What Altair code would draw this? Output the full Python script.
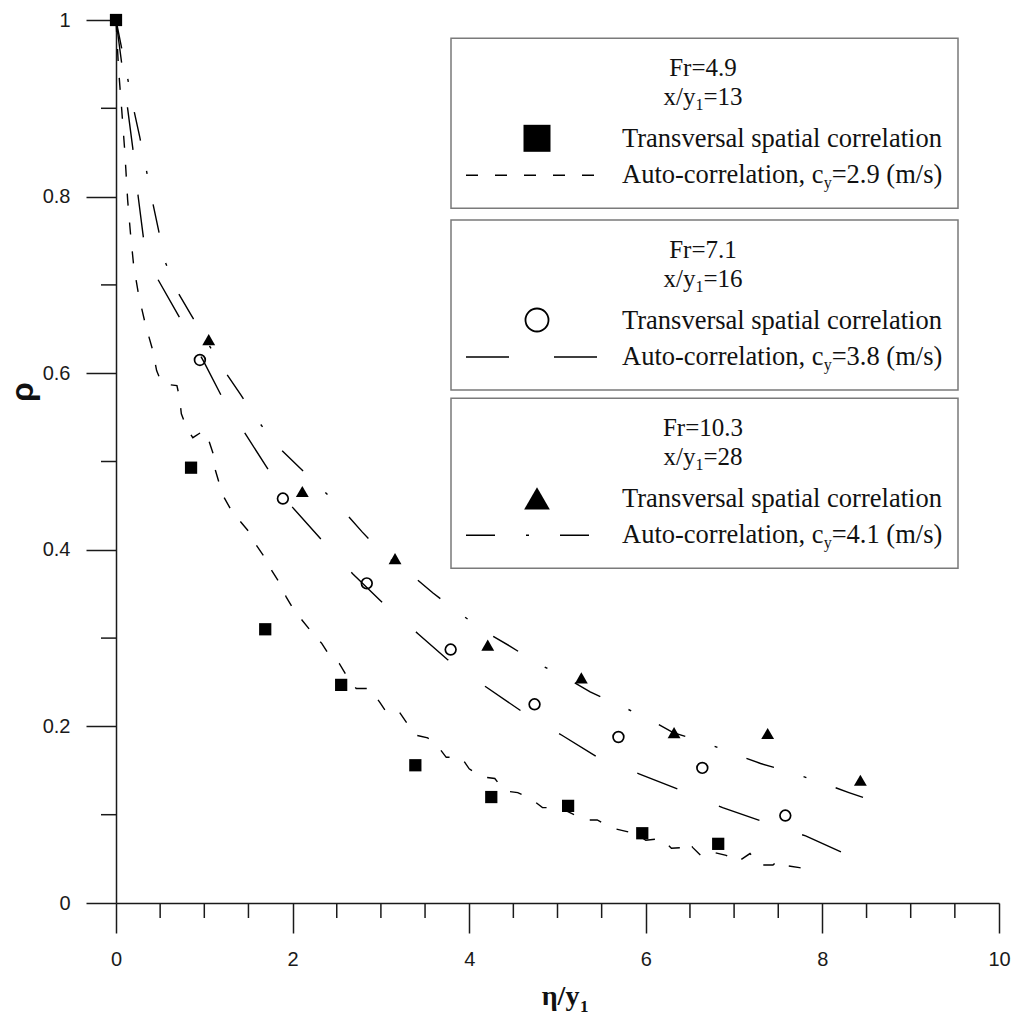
import altair as alt
import pandas as pd

# ---------------- data ----------------
# Transversal spatial correlation (markers)
sq_x = [0.0, 0.85, 1.69, 2.55, 3.39, 4.25, 5.12, 5.96, 6.82]
sq_y = [1.0, 0.493, 0.310, 0.247, 0.156, 0.120, 0.110, 0.079, 0.067]
ci_x = [0.95, 1.89, 2.84, 3.79, 4.74, 5.69, 6.64, 7.58]
ci_y = [0.615, 0.458, 0.362, 0.287, 0.225, 0.188, 0.153, 0.099]
tr_x = [1.05, 2.11, 3.16, 4.21, 5.27, 6.32, 7.38, 8.43]
tr_y = [0.638, 0.466, 0.390, 0.292, 0.255, 0.193, 0.192, 0.139]

# Auto-correlation curves
a49_x = [0.0, 0.03, 0.065, 0.099, 0.132, 0.166, 0.2, 0.257, 0.336, 0.416, 0.46, 0.52, 0.69,
         0.72, 0.74, 0.80, 0.87, 0.995, 1.04, 1.10, 1.12, 1.17, 1.22, 1.31, 1.40, 1.51, 1.59,
         1.68, 1.76, 1.85, 1.93, 2.02, 2.11, 2.23, 2.33, 2.42, 2.53, 2.62, 2.72, 2.87, 2.99,
         3.07, 3.21, 3.30, 3.40, 3.53, 3.64, 3.74, 3.91, 4.00, 4.14, 4.29, 4.40, 4.55, 4.70,
         4.83, 5.02, 5.17, 5.31, 5.45, 5.61, 5.74, 5.90, 6.00, 6.18, 6.29, 6.44, 6.49, 6.53,
         6.64, 6.78, 6.91, 7.03, 7.18, 7.29, 7.44, 7.49, 7.55, 7.74, 7.88]
a49_y = [1.0, 0.943, 0.898, 0.852, 0.796, 0.756, 0.722, 0.688, 0.654, 0.626, 0.603, 0.588, 0.586,
         0.572, 0.554, 0.538, 0.527, 0.535, 0.527, 0.509, 0.492, 0.475, 0.460, 0.444, 0.433, 0.420, 0.405,
         0.392, 0.377, 0.363, 0.346, 0.331, 0.320, 0.305, 0.294, 0.280, 0.271, 0.256, 0.243, 0.243, 0.227,
         0.215, 0.216, 0.203, 0.190, 0.187, 0.178, 0.165, 0.165, 0.152, 0.143, 0.141, 0.127, 0.125, 0.118,
         0.108, 0.108, 0.101, 0.094, 0.094, 0.085, 0.082, 0.078, 0.071, 0.073, 0.062, 0.063, 0.069, 0.063,
         0.052, 0.057, 0.054, 0.046, 0.056, 0.043, 0.043, 0.048, 0.043, 0.040, 0.037]
a71_x = [0.0, 0.13, 0.19, 0.25, 0.31, 0.47, 0.72, 1.0, 1.19, 1.46, 1.73, 2.0, 2.33, 2.68, 3.03,
         3.42, 3.75, 4.2, 4.61, 5.05, 5.47, 5.93, 6.39, 6.87, 7.33, 7.81, 8.21]
a71_y = [1.0, 0.901, 0.855, 0.801, 0.754, 0.707, 0.663, 0.612, 0.575, 0.532, 0.49, 0.448, 0.411,
         0.373, 0.339, 0.305, 0.276, 0.244, 0.216, 0.19, 0.164, 0.146, 0.128, 0.108, 0.092, 0.076, 0.058]
a103_x = [0.0, 0.13, 0.2, 0.27, 0.34, 0.41, 0.48, 0.55, 0.68, 0.85, 1.22, 1.41, 1.6, 1.82, 2.06,
          2.33, 2.57, 2.79, 3.04, 3.33, 3.59, 3.88, 4.17, 4.46, 4.76, 5.08, 5.37, 5.7, 6.02, 6.31,
          6.66, 7.0, 7.3, 7.67, 8.0, 8.3, 8.65]
a103_y = [1.0, 0.935, 0.899, 0.867, 0.832, 0.796, 0.763, 0.728, 0.695, 0.666, 0.604, 0.576, 0.547,
          0.518, 0.495, 0.469, 0.445, 0.42, 0.394, 0.373, 0.351, 0.329, 0.308, 0.291, 0.272, 0.256,
          0.239, 0.224, 0.209, 0.193, 0.182, 0.169, 0.158, 0.147, 0.136, 0.125, 0.113]

# axis ticks
x_major = [0, 2, 4, 6, 8, 10]
x_minor = [0.5, 1, 1.5, 2.5, 3, 3.5, 4.5, 5, 5.5, 6.5, 7, 7.5, 8.5, 9, 9.5]
y_major = [0, 0.2, 0.4, 0.6, 0.8, 1]
y_minor = [0.1, 0.3, 0.5, 0.7, 0.9]

# legend texts
fr_labels = ["Fr=4.9", "Fr=7.1", "Fr=10.3"]
xy_values = ["=13", "=16", "=28"]
cy_values = ["=2.9 (m/s)", "=3.8 (m/s)", "=4.1 (m/s)"]
marker_label = "Transversal spatial correlation"
auto_label = "Auto-correlation, c"

# ---------------- layout / style ----------------
W = H = 883
INK = "#1a1a1a"
xs = alt.Scale(domain=[0, 10], nice=False, zero=False)
ys = alt.Scale(domain=[0, 1], nice=False, zero=False)

DASH_SQ = [12, 17]
DASH_CI = [43, 45]
DASH_TR = [29, 31, 3, 31]

FS = 26.5
FS_T = 25
SUB = 16
box_tops = [18.3, 200.0, 378.3]
BOX_L, BOX_R, BOX_H = 335, 842, 170
TITLE_CX = 587
TEXT_L = 506
MARK_CX = 421
LINE_L, LINE_R = 350, 481


def df(xv, yv):
    return pd.DataFrame({"x": xv, "y": yv, "i": list(range(len(xv)))})


axis_x = alt.Axis(values=x_major, format="d", tickSize=30, tickWidth=1.5, tickColor=INK,
                  domainColor=INK, domainWidth=1.5, labelFont="Liberation Sans",
                  labelFontSize=20, labelColor=INK, labelPadding=26, labelBaseline="middle",
                  labelFlush=False, labelOverlap=False, labelAngle=0, grid=False, title=None)
axis_y = alt.Axis(values=y_major, format="~g", tickSize=30, tickWidth=1.5, tickColor=INK,
                  domainColor=INK, domainWidth=1.5, labelFont="Liberation Sans",
                  labelFontSize=20, labelColor=INK, labelPadding=16, labelFlush=False,
                  labelOverlap=False, grid=False, title=None)


def X(field="x:Q"):
    return alt.X(field, scale=xs, axis=axis_x)


def Y(field="y:Q"):
    return alt.Y(field, scale=ys, axis=axis_y)


layers = []

# minor ticks
layers.append(alt.Chart(pd.DataFrame({"v": x_minor})).mark_rule(color=INK, strokeWidth=1.5).encode(
    x=X("v:Q"), y=alt.value(H), y2=alt.value(H + 15)))
layers.append(alt.Chart(pd.DataFrame({"v": y_minor})).mark_rule(color=INK, strokeWidth=1.5).encode(
    y=Y("v:Q"), x=alt.value(-15), x2=alt.value(0)))


def curve(xv, yv, dash):
    return alt.Chart(df(xv, yv)).mark_line(color="black", strokeWidth=1.4, strokeDash=dash).encode(
        x=X(), y=Y(), order="i:Q")


layers.append(curve(a49_x, a49_y, DASH_SQ))
layers.append(curve(a71_x, a71_y, DASH_CI))
layers.append(curve(a103_x, a103_y, DASH_TR))

# markers
layers.append(alt.Chart(df(ci_x, ci_y)).mark_point(shape="circle", filled=False, size=115, strokeWidth=1.7,
                                                    color="black", opacity=1).encode(x=X(), y=Y()))
layers.append(alt.Chart(df(tr_x, tr_y)).mark_point(shape="triangle-up", filled=True, size=165,
                                                    color="black", opacity=1).encode(x=X(), y=Y()))
layers.append(alt.Chart(df(sq_x, sq_y)).mark_point(shape="square", filled=True, size=150,
                                                    color="black", opacity=1).encode(x=X(), y=Y()))

# legend boxes
boxes = pd.DataFrame({"x1": [BOX_L] * 3, "x2": [BOX_R] * 3, "y1": box_tops,
                      "y2": [t + BOX_H for t in box_tops]})
layers.append(alt.Chart(boxes).mark_rect(fill="white", stroke="#7a7a7a", strokeWidth=1.5).encode(
    x=alt.X("x1:Q", scale=None, axis=None), x2="x2:Q",
    y=alt.Y("y1:Q", scale=None, axis=None), y2="y2:Q"))

# legend texts
center_rows, left_rows = [], []
xy_w = 1.278 * FS_T
for k, t in enumerate(box_tops):
    center_rows.append({"px": TITLE_CX, "py": t + 38, "t": fr_labels[k]})
    start = TITLE_CX - (xy_w + 0.5 * SUB + 1.564 * FS_T) / 2
    left_rows.append({"px": start, "py": t + 67, "t": "x/y", "fs": FS_T})
    left_rows.append({"px": start + xy_w, "py": t + 72, "t": "1", "fs": SUB})
    left_rows.append({"px": start + xy_w + 0.5 * SUB, "py": t + 67, "t": xy_values[k], "fs": FS_T})
    left_rows.append({"px": TEXT_L, "py": t + 109, "t": marker_label, "fs": FS})
    aw = 7.609 * FS
    left_rows.append({"px": TEXT_L, "py": t + 145, "t": auto_label, "fs": FS})
    left_rows.append({"px": TEXT_L + aw, "py": t + 150, "t": "y", "fs": SUB})
    left_rows.append({"px": TEXT_L + aw + 0.5 * SUB, "py": t + 145, "t": cy_values[k], "fs": FS})

layers.append(alt.Chart(pd.DataFrame(center_rows)).mark_text(
    align="center", baseline="alphabetic", font="Liberation Serif", fontSize=FS_T, color="#111").encode(
    x=alt.X("px:Q", scale=None, axis=None), y=alt.Y("py:Q", scale=None, axis=None), text="t:N"))
layers.append(alt.Chart(pd.DataFrame(left_rows)).mark_text(
    align="left", baseline="alphabetic", font="Liberation Serif", color="#111").encode(
    x=alt.X("px:Q", scale=None, axis=None), y=alt.Y("py:Q", scale=None, axis=None), text="t:N",
    size=alt.Size("fs:Q", scale=None, legend=None)))

# legend markers
mk = [("square", True, 729, 0), ("circle", False, 531, 1), ("triangle-up", True, 660, 2)]
for shape, filled, size, k in mk:
    layers.append(alt.Chart(pd.DataFrame({"px": [MARK_CX], "py": [box_tops[k] + 100]})).mark_point(
        shape=shape, filled=filled, size=size, color="black", opacity=1, strokeWidth=1.8).encode(
        x=alt.X("px:Q", scale=None, axis=None), y=alt.Y("py:Q", scale=None, axis=None)))

# legend sample lines
for dash, k in [(DASH_SQ, 0), (DASH_CI, 1), (DASH_TR, 2)]:
    layers.append(alt.Chart(pd.DataFrame({"k": [k]})).mark_rule(
        color="black", strokeWidth=1.4, strokeDash=dash).encode(
        x=alt.value(LINE_L), x2=alt.value(LINE_R), y=alt.value(box_tops[k] + 137)))

# axis titles
layers.append(alt.Chart(pd.DataFrame({"k": [0]})).mark_text(
    angle=270, align="center", baseline="middle", font="Liberation Sans", fontWeight="bold",
    fontSize=32, color="#111").encode(x=alt.value(-93), y=alt.value(372), text=alt.value("ρ")))
layers.append(alt.Chart(pd.DataFrame({"k": [0]})).mark_text(
    align="left", baseline="alphabetic", font="Liberation Serif", fontWeight="bold",
    fontSize=28, color="#111").encode(x=alt.value(425.7), y=alt.value(985), text=alt.value("η/y")))
layers.append(alt.Chart(pd.DataFrame({"k": [0]})).mark_text(
    align="left", baseline="alphabetic", font="Liberation Serif", fontWeight="bold",
    fontSize=17, color="#111").encode(x=alt.value(464), y=alt.value(992), text=alt.value("1")))

chart = alt.layer(*layers).properties(
    width=W, height=H, background="white",
    autosize=alt.AutoSizeParams(type="none"),
    padding={"left": 116, "top": 20, "right": 19, "bottom": 114},
).configure_view(stroke=None)

chart.save("out.html", embed_options={"renderer": "svg", "actions": False})
